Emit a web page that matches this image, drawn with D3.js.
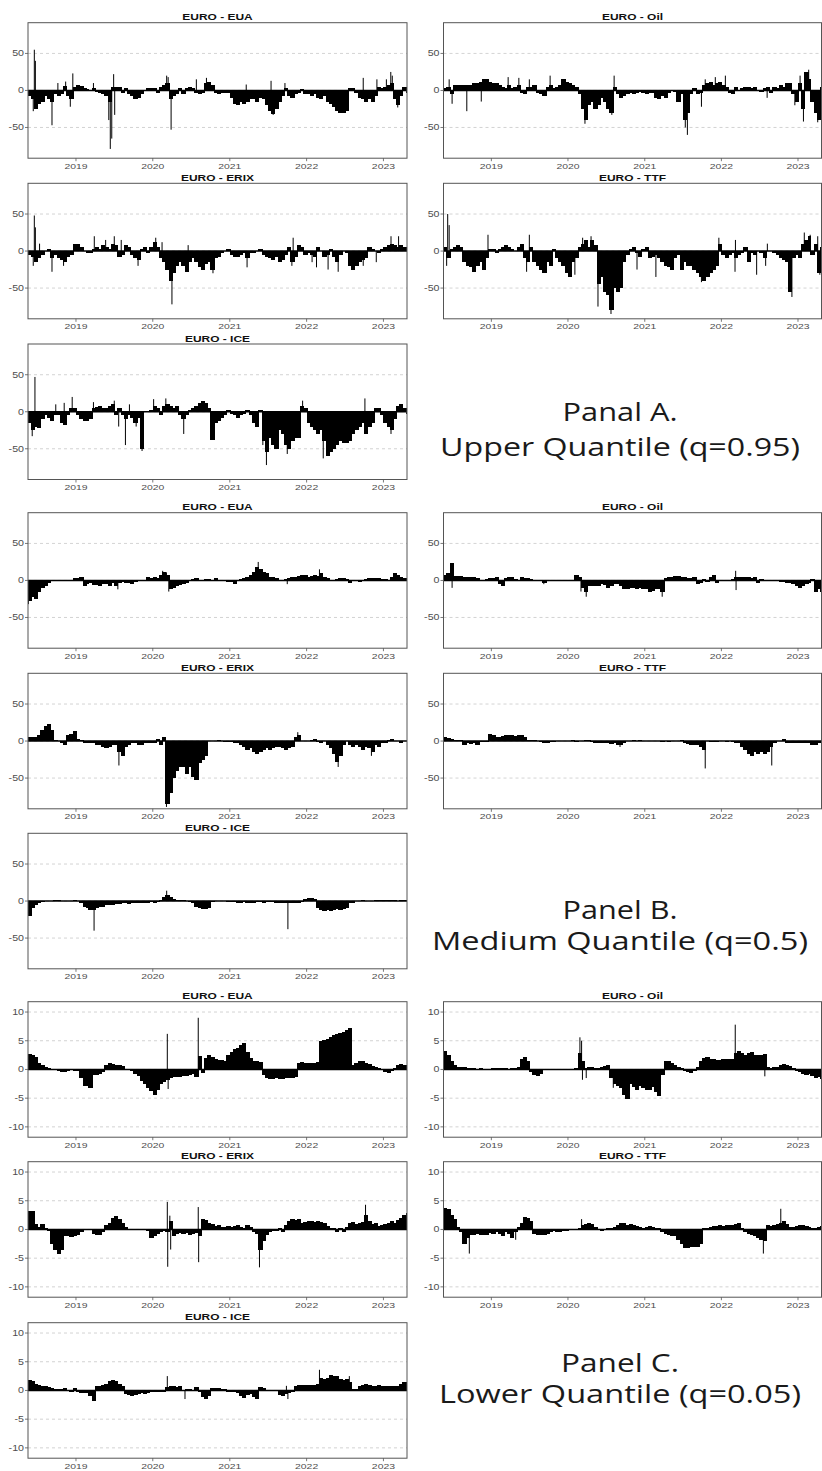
<!DOCTYPE html>
<html>
<head>
<meta charset="utf-8">
<script src="https://cdn.jsdelivr.net/npm/d3@7"></script>
<style>
  body { margin: 0; background: #fff; }
</style>
</head>
<body>
<div id="chart"></div>
<script>
// half-month readings, May-16 2018 .. Apr-16 2023 (119 values per series)
// rows of each array: 2018 (15) | 2019 (24) | 2020 (24) | 2021 (24) | 2022 (24) | 2023 (8)

// Panel A, upper quantile q=0.95
const euaUpper = [
  -8, -12, -25, -18, -15, -8, -12, -15, -5, -8, -5, 6, -8, -12, 5,
  8, 6, 3, 2, 0, 3, -2, -3, -5, -8, -15, 5, 4, 5, -3, 3, -5, -8, -12, -10, -5, 0, 3, 3,
  3, -3, 5, 8, 10, -12, -8, -5, 3, -5, 3, 4, 3, -3, -5, -3, 10, 12, 8, -3, -5, -4, -3, -3,
  -10, -18, -20, -15, -18, -15, -12, -12, -15, -10, -12, -20, -28, -32, -25, -15, -8, 3, -8, -10, -5, -3, 2, -5,
  -5, -8, -5, -10, -12, -8, -15, -18, -22, -28, -30, -30, -28, 3, 3, -3, -10, -12, -15, -12, -15, -8, 5, 3,
  5, 8, 10, -12, -20, -8, 5, -3
]
const oilUpper = [
  3, 5, -5, 8, 8, 8, 7, 8, 8, 10, 10, 12, 15, 15, 12,
  10, 10, 8, 5, 3, 8, 3, 5, 8, -3, -5, 5, 5, 8, -3, -5, -8, 5, 8, 3, 5, 8, 15, 12,
  10, 8, 5, -5, -25, -40, -20, -15, -25, -20, -10, -15, -25, -30, 5, -5, -10, -8, -5, -3, -5, -3, -2, -3,
  -5, -3, -3, -10, -12, -8, -10, -3, 0, -2, -15, -5, -40, -30, -5, 3, -5, -3, 8, 10, 12, 8, 10, 12,
  8, 5, -3, -5, 5, 0, 3, 5, 5, 3, 5, 0, -2, 3, 5, -3, 5, 3, 8, 5, 10, 10, -5, -15,
  10, -25, 25, 15, -15, -30, -40, 5
]
const erixUpper = [
  -5, -8, -15, -10, -5, 0, 3, -10, -5, -10, -12, -15, -8, -5, 10,
  10, 5, 0, -3, -3, 3, 5, 3, 8, 5, 3, 10, 8, -8, -5, 8, 5, -5, -10, -12, 3, 5, -3, 5,
  12, 5, -10, -15, -25, -40, -30, -20, -15, -20, -28, -15, -10, -15, -22, -25, -18, -15, -25, -10, -8, -3, 0, 3,
  -5, -8, -8, -5, -3, -10, -3, -3, 0, 3, -5, -8, -10, -12, -8, -15, -12, -5, 5, -15, -8, 8, 5, -5,
  -3, -5, -8, 5, 0, -8, -5, 3, -8, -15, -5, 0, -3, -20, -25, -20, -15, -12, -10, 5, 3, 0, -3, 3,
  5, 8, 10, 8, 5, 8, 5, 3
]
const ttfUpper = [
  5, -10, 3, 5, 8, 5, -15, -20, -22, -28, -20, -15, -25, -10, 3,
  3, -3, 3, 5, 8, 5, 3, 0, 5, 10, -10, -15, 5, -15, -20, -25, -30, -15, -20, 3, -10, -15, -20, -30,
  -35, -15, -10, 5, 10, 15, 5, 15, 8, -45, -35, -55, -60, -80, -50, -55, -50, -15, -5, 3, 5, -3, -8, 3,
  5, -10, -8, -5, -10, -15, -20, -22, -25, -10, -5, -25, -15, -20, -20, -25, -30, -35, -40, -35, -30, -25, -20, 10,
  -5, -10, -5, -3, -10, -5, -3, 5, -15, -3, -5, 0, -3, -10, 0, 0, -3, -5, -10, -12, -15, -55, -10, -5,
  -10, 10, 15, 20, -5, 10, -30, 5
]
const iceUpper = [
  -15, -25, -20, -22, -10, -5, -8, -12, -5, -5, -15, -18, -5, 5, 5,
  -5, -10, -12, -12, -10, 5, 7, 8, 5, 5, 8, 10, -5, 5, -5, -10, -5, -8, -15, -8, -50, 0, 0, 3,
  8, 5, -5, 8, 10, 8, 5, 8, -5, -10, -5, 3, 5, 8, 12, 15, 12, 5, -38, -15, -12, -8, -5, 3,
  -3, -5, -8, -5, -3, 3, -5, -15, -20, 3, -40, -55, -35, -45, -50, -25, -30, -45, -50, -40, -35, -35, 8, 5,
  -15, -20, -25, -30, -25, -40, -60, -55, -50, -45, -40, -42, -42, -40, -30, -25, -20, -15, -30, -20, -15, 5, 5, -5,
  -15, -20, -25, -10, 8, 10, 5, -3
]

// Panel B, medium quantile q=0.5
const euaMedium = [
  -28, -22, -25, -15, -10, -8, -3, -1, 0, 0, 0, -1, -1, 0, 3,
  3, 5, -8, -5, -3, -6, -6, -7, -5, -5, -7, -3, -8, -3, -2, -3, -4, -5, -2, -1, -1, -1, 5, 3,
  5, 3, 8, 12, 8, -12, -10, -8, -6, -5, -3, 0, 2, 3, 1, 0, 2, 2, 1, 3, 1, -1, -1, -2,
  -2, -5, -1, 2, 3, 5, 8, 12, 18, 15, 12, 10, 5, 5, 3, 0, 0, 2, 3, 4, 5, 6, 8, 8,
  5, 6, 7, 6, 10, 5, 3, 1, 1, 2, 3, 3, 2, -3, -1, 1, -2, 1, 2, 3, 3, 3, 3, 2,
  2, 1, 5, 10, 8, 5, 3, 3
]
const oilMedium = [
  8, 10, 23, 6, 6, 6, 5, 5, 4, 4, 3, 0, 0, 2, 3,
  3, 4, -5, -8, 3, 4, 5, 2, -1, 5, 3, 3, 2, 0, 0, 0, -3, 0, 0, 0, 0, 0, 0, 0,
  0, 0, 8, 5, -10, -15, -8, -8, -8, -7, -5, -6, -10, -8, -5, -5, -8, -12, -12, -10, -10, -12, -10, -12,
  -12, -15, -14, -12, -12, -15, 3, 5, 5, 6, 6, 5, 5, 3, 3, 5, -5, -3, 2, -2, 5, 8, -3, 0,
  0, -1, -1, 2, 5, 4, 4, 4, 5, 3, 5, -3, 2, 0, 0, 0, 0, -1, -2, -2, -3, -3, -5, -8,
  -10, -8, -5, -3, 2, -15, -12, -15
]
const erixMedium = [
  5, 5, 5, 8, 15, 20, 23, 15, 2, 0, -3, -5, 8, 10, 13,
  3, 2, -2, -3, -2, -2, -5, -5, -8, -10, -8, -5, -5, -15, -20, -8, -5, -3, -3, -5, -5, -3, -3, -2,
  -2, 3, -5, 5, -85, -70, -50, -40, -35, -35, -45, -35, -48, -52, -30, -25, -20, 0, 0, 0, 2, 0, -1, -1,
  -1, -2, -3, -5, -8, -12, -10, -15, -18, -15, -12, -10, -12, -10, -8, -8, -10, -12, -10, -8, 5, 8, 0, 0,
  0, 2, 3, -1, -2, 0, -5, -10, -18, -28, -20, -5, 0, -5, -8, -5, -8, -12, -8, -10, -15, -5, -8, -3,
  -3, 2, 3, 0, 0, -3, 0, 0
]
const ttfMedium = [
  5, 4, 3, 2, 1, 1, -5, -3, -4, -3, -5, -1, -1, -1, 10,
  8, 5, 6, 7, 8, 8, 8, 7, 8, 8, 5, 2, 2, 1, 0, -1, -2, -2, -1, -1, 0, 0, 0, 0,
  0, 1, -1, 0, 0, 2, 1, -1, -3, -3, -2, -2, -3, -4, -3, -5, -5, -2, 0, 0, 1, 0, 1, 0,
  0, 0, 0, 0, 0, -1, 0, -1, 0, 0, 0, 1, -3, -4, -5, -5, -6, -8, -12, 0, -1, -1, -1, 0,
  0, -1, 0, -1, -2, -3, -8, -12, -18, -20, -15, -18, -15, -18, -15, -8, -3, 0, 0, 3, -3, -3, -3, -2,
  -2, -2, -2, -3, -5, -5, -2, -2
]
const iceMedium = [
  -20, -10, -5, -3, -1, 0, 0, 0, 1, 1, 0, 0, 0, 0, 1,
  0, -3, -8, -10, -12, -12, -10, -8, -8, -6, -5, -5, -4, -4, -3, -3, -4, -3, -3, -2, -2, -2, -2, -1,
  -3, -1, 2, 5, 8, 6, 3, 2, 1, 1, 0, -1, -3, -8, -10, -11, -11, -10, -1, 0, 0, 0, 0, -1,
  -1, -1, -2, -2, -1, -2, -2, -3, -1, -1, -2, -1, -1, -1, -2, -2, -2, -3, -3, -3, -2, -2, -1, 3,
  4, 4, 3, -10, -12, -13, -12, -13, -12, -11, -12, -11, -10, -3, -2, 0, 0, 1, 0, 0, 0, 1, 1, 1,
  1, 1, 2, 1, 0, 1, 1, 1
]

// Panel C, lower quantile q=0.05
const euaLower = [
  2.7, 2.5, 2.2, 1.2, 0.8, 0.5, 0.2, 0, 0, -0.3, -0.4, -0.4, -0.3, 0, -0.2,
  -0.3, -1.5, -2.8, -2.8, -3.3, -1, -0.9, -0.8, -0.5, 0.8, 1.2, 0.9, 0.8, 0.8, 0.6, 0.1, 0, -0.2, -0.8, -1.2, -2, -2.5, -3.2, -3.8,
  -4.5, -3.5, -2.5, -2.2, -1.8, -1.5, -1.4, -1.3, -1.4, -1.2, -1.1, -1, -0.8, -1.4, 2.3, -0.6, 2, 2.5, 2.2, 1.8, 1.6, 1.6, 1.5, 2.5,
  3, 3.5, 3.8, 4.2, 4.6, 3, 2, 1.5, 1.4, 1.3, -1, -1.5, -1.6, -1.6, -1.5, -1.6, -1.6, -1.5, -1.5, -1.5, -1.4, 1.2, 1.3, 1.2,
  1.2, 1.1, 1.1, 1.3, 5, 5.2, 5.3, 5.6, 6, 6.2, 6.4, 6.5, 6.8, 7.2, 0.8, 1.2, 1.5, 1.5, 1.2, 1, 0.6, 0.5, 0.3, 0.1,
  -0.4, -0.6, -0.3, 0.3, 0.7, 0.9, 0.8, 0.6
]
const oilLower = [
  3.2, 2.5, 1.5, 0.8, 0.5, 0.5, 0.4, 0.3, 0.2, 0.2, 0.1, 0.2, 0.1, 0, 0,
  0.2, 0.2, 0.2, 0.2, 0.2, 0.1, 0.2, 0.3, 0.5, 1.8, 2.2, 1.5, -0.5, -1, -1.2, -0.8, 0, 0, 0, 0.1, 0, 0.1, 0, 0,
  0, 0.1, 0.2, 2.8, 1.5, 0.3, 0.5, 0.4, 0.3, 0.3, 0.4, 0.6, 0.8, -1.5, -2.5, -2.8, -3.2, -4.5, -5.2, -2.5, -3, -3.5, -2.8, -3.2,
  -3.5, -3.5, -3, -4, -4.6, -1, 1.5, 1.4, 1.2, 0.8, 0.4, 0.2, -0.2, -0.4, -0.6, -0.2, 0.5, 1.5, 2, 2.2, 1.8, 1.8, 1.6, 1.7,
  1.8, 1.8, 1.9, 1.9, 2.8, 3.2, 2.8, 2.5, 2.8, 3, 2.6, 2.5, 2.6, 2.7, 0.4, 0.3, 0.5, 0.4, 0.7, 0.9, 0.8, 0.6, 0.3, -0.2,
  -0.5, -0.8, -1, -0.8, -1.2, -1.5, -1.3, -1.6
]
const erixLower = [
  3.3, 3.2, 1, 0.5, 1, 0.3, -0.3, -2.5, -3.5, -4.2, -3.5, -1.2, -1.2, -1.3, -1.1,
  -1, -0.5, 0, 0.1, 0, -0.8, -1, -0.9, -0.5, 0.8, 1.2, 2, 2.4, 1.8, 1.2, 0.5, 0, 0, 0, 0, 0, 0, -0.2, -1.5,
  -1.2, -0.8, -0.5, -0.3, -0.5, 1.5, -1.2, -0.8, -0.6, -0.8, -0.6, -1, -0.8, -0.6, -1.2, 1.8, 1.6, 1.2, 1, 0.6, 0.7, 0.5, 0.5, 0.6,
  0.5, 0.6, 0.8, 0.5, 0.3, 0.8, 0.4, -0.5, -0.8, -3.5, -2, -1, -0.5, -0.2, -0.3, 0.2, -0.5, 0.8, 1.5, 1.8, 1.6, 1.8, 1.2, 1.3,
  1.4, 1.5, 1.3, 1.5, 1.3, 1.2, 0.6, 0.2, 0.3, -0.4, 0.2, -0.4, 0.5, 1.2, 1.3, 1, 1.2, 1.3, 2.5, 1.5, 1, 1.2, 0.6, 0.8,
  1, 1.2, 1.5, 1.2, 1.6, 2, 2.6, 2.8
]
const ttfLower = [
  3.8, 3.5, 2.5, 1.8, 0.5, -0.5, -2.5, -1.5, -1, -1, -0.8, -0.9, -1, -1, -0.7,
  -0.8, -0.5, -0.8, -1.2, -0.5, -0.8, -1.5, -0.4, 0.5, 1.2, 2.1, 2, 1.5, -0.8, -1, -0.9, -1, -0.8, -0.5, -0.3, -0.4, -0.4, -0.3, -0.2,
  -0.1, 0, 0.1, 0.2, 0.8, 1, 1.1, 0.9, 0.5, 0, -0.2, 0, 0.2, 0.3, 0.4, 0.8, 1.2, 1.1, 0.8, 1, 0.8, 0.6, 0.4, 0.3,
  0.4, 0.6, 0.5, 0.3, 0.2, -0.5, -0.8, -1, -1.2, -1.2, -1.8, -2.5, -3.2, -3.2, -3, -3.1, -3, -2.5, 0.2, 0.3, 0.5, 0.6, 0.6, 0.7,
  0.6, 0.7, 0.8, 0.7, 1, 1.1, 0.2, -0.5, -0.8, -1, -1.2, -1.5, -1.8, -2, 0.8, 0.6, 0.8, 1, 1.2, 1.5, 1, 0.4, 0.5, 0.6,
  0.7, 0.7, 0.6, 0.5, 0.3, 0.2, 0.4, 0.6
]
const iceLower = [
  1.8, 1.7, 1.2, 1, 0.8, 0.7, 0.6, 0.4, 0.3, 0.2, 0.3, 0.5, -0.1, -0.2, 0.4,
  -0.3, -0.4, -0.5, -0.5, -1, -1.8, 0.7, 0.8, 1, 1.2, 1.6, 1.8, 1.6, 1.2, 0.8, -0.6, -0.8, -1, -0.8, -0.6, -0.5, -0.6, -0.4, -0.3,
  -0.3, -0.3, -0.3, -0.3, 0.6, 0.8, 0.7, 0.6, 0.8, 0, 0.2, 0.3, 0.1, 0.6, -0.3, -1.2, -1.5, -1, 0.4, 0.5, 0.4, 0.3, 0.2, -0.2,
  -0.3, -0.2, -0.5, -1, -1.4, -0.8, -0.6, -1.2, -1.5, 0.6, 0.5, 0.1, 0, 0.1, 0, -0.8, -1, -0.7, -0.5, -0.3, 0.8, 0.9, 0.9, 1,
  1, 0.9, 1, 1.2, 2.2, 2, 2.2, 2.7, 2.6, 2.5, 2, 1.8, 2, 1.5, 0.3, 0.3, 0.8, 1, 1.2, 1, 0.8, 0.8, 0.9, 0.7,
  0.7, 0.8, 0.7, 0.8, 0.8, 1.2, 1.5, 0.5
]

// single-day spikes: [date, value]
const euaUpperSpikes = [["2018-06-12", -28], ["2018-06-17", 55], ["2018-06-22", 40], ["2018-09-09", -47], ["2018-10-07", 10], ["2018-11-13", 12], ["2018-12-05", -22], ["2018-12-17", 23], ["2019-03-25", 10], ["2019-06-06", -40], ["2019-06-13", -79], ["2019-06-20", -65], ["2019-06-29", 22], ["2019-07-04", -33], ["2020-03-07", 20], ["2020-03-14", 18], ["2020-03-28", -53], ["2020-07-26", 15], ["2020-09-12", 17], ["2021-03-20", 8], ["2021-07-16", 13], ["2021-07-26", -33], ["2021-09-20", 10], ["2022-09-27", 17], ["2022-12-01", 15], ["2023-01-15", 15], ["2023-02-05", 25], ["2023-02-12", 20], ["2023-03-10", -23]]
const oilUpperSpikes = [["2018-06-14", 15], ["2018-06-28", -18], ["2018-09-06", -28], ["2018-11-14", -15], ["2019-03-22", 18], ["2019-05-12", 17], ["2019-07-01", 15], ["2019-10-08", 20], ["2020-03-22", -45], ["2020-07-28", -33], ["2020-08-08", 20], ["2021-07-13", -50], ["2021-07-23", -60], ["2021-09-28", -22], ["2021-10-16", 15], ["2021-12-03", 18], ["2022-01-20", 20], ["2022-08-07", -10], ["2022-12-17", -20], ["2023-01-11", 20], ["2023-01-27", -42], ["2023-02-21", 28], ["2023-04-05", -43]]
const erixUpperSpikes = [["2018-06-12", -20], ["2018-06-17", 48], ["2018-06-22", 32], ["2018-07-12", 10], ["2018-09-09", -28], ["2018-11-03", -20], ["2019-03-29", 20], ["2019-05-22", 15], ["2019-07-02", 20], ["2019-08-04", 15], ["2019-10-23", -20], ["2020-01-15", 18], ["2020-02-14", 12], ["2020-04-01", -72], ["2020-06-17", 8], ["2020-10-13", -30], ["2021-03-24", -22], ["2021-10-23", -20], ["2021-10-29", 18], ["2022-01-27", -15], ["2022-02-17", -22], ["2022-04-13", -25], ["2022-05-31", -28], ["2022-09-27", -20], ["2022-11-28", -15], ["2023-02-06", 20], ["2023-03-14", 20]]
const ttfUpperSpikes = [["2018-06-02", -20], ["2018-06-07", 50], ["2018-06-14", 35], ["2018-12-16", 22], ["2019-06-18", -28], ["2019-07-01", 22], ["2020-02-03", -32], ["2020-03-11", 18], ["2020-04-20", 20], ["2020-05-23", -75], ["2020-07-24", -85], ["2020-11-25", -25], ["2021-02-23", -35], ["2021-09-28", -42], ["2021-12-20", 18], ["2022-03-07", -28], ["2022-03-09", 15], ["2022-06-18", -32], ["2022-07-31", -20], ["2022-08-08", 10], ["2022-12-03", -62], ["2023-01-31", 25], ["2023-02-28", 22], ["2023-04-05", 20], ["2023-04-15", -32]]
const iceUpperSpikes = [["2018-06-07", -33], ["2018-06-20", 47], ["2018-09-27", 10], ["2018-11-06", 12], ["2018-12-14", 20], ["2019-03-25", 13], ["2019-07-02", 15], ["2019-07-23", -20], ["2019-08-24", -45], ["2019-09-12", 10], ["2019-10-14", -20], ["2019-11-11", -53], ["2020-01-05", 17], ["2020-03-03", 18], ["2020-05-27", -30], ["2021-06-07", -45], ["2021-06-24", -72], ["2021-10-01", -57], ["2021-12-13", 15], ["2022-03-21", -63], ["2022-10-05", 18], ["2023-02-06", -30]]

const euaMediumSpikes = [["2018-05-20", -32], ["2019-07-19", -12], ["2020-02-17", 13], ["2020-03-06", 11], ["2020-03-17", -15], ["2021-05-16", 25], ["2021-10-01", -5], ["2022-03-03", 15]]
const oilMediumSpikes = [["2018-06-28", -10], ["2019-09-08", -5], ["2020-03-03", -15], ["2020-03-28", -22], ["2021-03-25", -22], ["2022-03-10", 13], ["2022-03-12", -13]]
const erixMediumSpikes = [["2019-07-24", -33], ["2020-03-06", -89], ["2021-11-20", 12], ["2022-05-31", -35], ["2022-11-05", -20]]
const ttfMediumSpikes = [["2020-09-05", -8], ["2021-10-16", -37], ["2022-08-29", -33]]
const iceMediumSpikes = [["2019-03-28", -40], ["2020-03-07", 14], ["2021-10-04", -38]]

const euaLowerSpikes = [["2020-03-10", 6.2], ["2020-03-14", -3.4], ["2020-08-04", 9]]
const oilLowerSpikes = [["2020-02-27", 5.6], ["2020-03-06", 5], ["2020-03-10", -1.8], ["2020-03-28", -1.5], ["2020-08-04", -3.2], ["2022-03-08", 7.8], ["2022-07-27", -1.2]]
const erixLowerSpikes = [["2020-03-10", 4.8], ["2020-03-12", -6.5], ["2020-03-22", 2.4], ["2020-03-26", -3.5], ["2020-08-04", 3.9], ["2020-08-06", -5.7], ["2021-05-22", -6.6], ["2022-10-08", 4.3]]
const ttfLowerSpikes = [["2018-09-18", -4.2], ["2019-04-27", -1.8], ["2020-03-06", 1.8], ["2022-07-20", -4.2], ["2022-10-11", 3.6]]
const iceLowerSpikes = [["2020-03-10", 2.5], ["2020-06-02", -1.5], ["2021-09-27", 0.8], ["2021-10-04", -1.5], ["2022-03-03", 3.6], ["2022-07-23", 2.5]]

const yearTicks = [2019, 2020, 2021, 2022, 2023]
const wideTicks = [-50, 0, 50]
const narrowTicks = [-10, -5, 0, 5, 10]
const panelNotes = [
  ["Panal A.", "Upper Quantile (q=0.95)"],
  ["Panel B.", "Medium Quantile (q=0.5)"],
  ["Panel C.", "Lower Quantile (q=0.05)"]
]

// [title, values, spikes, block, row, col]
const panels = [
  ["EURO - EUA", euaUpper, euaUpperSpikes, 0, 0, 0],
  ["EURO - Oil", oilUpper, oilUpperSpikes, 0, 0, 1],
  ["EURO - ERIX", erixUpper, erixUpperSpikes, 0, 1, 0],
  ["EURO - TTF", ttfUpper, ttfUpperSpikes, 0, 1, 1],
  ["EURO - ICE", iceUpper, iceUpperSpikes, 0, 2, 0],
  ["EURO - EUA", euaMedium, euaMediumSpikes, 1, 0, 0],
  ["EURO - Oil", oilMedium, oilMediumSpikes, 1, 0, 1],
  ["EURO - ERIX", erixMedium, erixMediumSpikes, 1, 1, 0],
  ["EURO - TTF", ttfMedium, ttfMediumSpikes, 1, 1, 1],
  ["EURO - ICE", iceMedium, iceMediumSpikes, 1, 2, 0],
  ["EURO - EUA", euaLower, euaLowerSpikes, 2, 0, 0],
  ["EURO - Oil", oilLower, oilLowerSpikes, 2, 0, 1],
  ["EURO - ERIX", erixLower, erixLowerSpikes, 2, 1, 0],
  ["EURO - TTF", ttfLower, ttfLowerSpikes, 2, 1, 1],
  ["EURO - ICE", iceLower, iceLowerSpikes, 2, 2, 0]
]

const width = 822
const height = 1471
const rowTops = [[22.7, 183.3, 344], [512.7, 673.3, 833.3], [1001.7, 1161.7, 1322.7]]
const plotH = 135.5
const colX = [[28, 407], [443.5, 821.5]]
const sx = 1.3 // the picture is stretched sideways

const parseDate = d3.timeParse("%Y-%m-%d")
const startDate = new Date(2018, 4, 18)
const endDate = new Date(2023, 3, 23)
const binDates = d3.timeMonth.range(new Date(2018, 4, 1), new Date(2023, 4, 1))
  .flatMap(m => [m, d3.timeDay.offset(m, 15)]).slice(1)

const svg = d3.select("#chart").append("svg")
  .attr("width", width)
  .attr("height", height)
  .style("font-family", "'Liberation Sans', Arial, sans-serif")

svg.append("rect").attr("width", width).attr("height", height).attr("fill", "#fff")

function stretched(g, x, y, str) {
  return g.append("text")
    .attr("transform", `translate(${x},${y}) scale(${sx},1)`)
    .text(str)
}

panels.forEach(([title, values, spikes, band, row, col], k) => {
  const top = rowTops[band][row]
  const [left, right] = colX[col]
  const bottom = top + plotH
  const lim = band === 2 ? 11.8 : 91.5
  const ticks = band === 2 ? narrowTicks : wideTicks

  const x = d3.scaleTime().domain([startDate, endDate]).range([left, right])
  const y = d3.scaleLinear().domain([-lim, lim]).range([bottom, top])

  const g = svg.append("g")

  g.append("clipPath").attr("id", "clip" + k)
    .append("rect").attr("x", left).attr("y", top)
    .attr("width", right - left).attr("height", plotH)

  // dashed grid
  g.selectAll(".grid").data(ticks).enter().append("line")
    .attr("x1", left).attr("x2", right)
    .attr("y1", d => y(d)).attr("y2", d => y(d))
    .attr("stroke", "#c8c8c8").attr("stroke-width", 0.8)
    .attr("stroke-dasharray", "3,3")

  const marks = g.append("g").attr("clip-path", `url(#clip${k})`)

  marks.selectAll(".bar").data(values).enter().append("rect")
    .attr("x", (d, i) => x(binDates[i]))
    .attr("width", (d, i) => (i + 1 < binDates.length ? x(binDates[i + 1]) : right) - x(binDates[i]) + 1)
    .attr("y", d => Math.min(y(d), y(0)))
    .attr("height", d => Math.abs(y(d) - y(0)))
    .attr("fill", "#000")
    .attr("shape-rendering", "crispEdges")

  marks.selectAll(".spike").data(spikes).enter().append("line")
    .attr("x1", d => x(parseDate(d[0]))).attr("x2", d => x(parseDate(d[0])))
    .attr("y1", y(0)).attr("y2", d => y(d[1]))
    .attr("stroke", "#000").attr("stroke-width", 1)

  marks.append("line")
    .attr("x1", left).attr("x2", right)
    .attr("y1", y(0)).attr("y2", y(0))
    .attr("stroke", "#000").attr("stroke-width", 1.5)

  // frame
  g.append("rect")
    .attr("x", left).attr("y", top)
    .attr("width", right - left).attr("height", plotH)
    .attr("fill", "none").attr("stroke", "#555").attr("stroke-width", 1)

  // y ticks
  ticks.forEach(t => {
    g.append("line").attr("x1", left - 3).attr("x2", left)
      .attr("y1", y(t)).attr("y2", y(t))
      .attr("stroke", "#555").attr("stroke-width", 0.8)
    stretched(g, left - 4, y(t) + 3, t)
      .attr("text-anchor", "end")
      .attr("font-size", "8.2px")
      .attr("fill", "#4d4d4d")
  })

  // x ticks
  yearTicks.forEach(yr => {
    const px = x(new Date(yr, 0, 1))
    g.append("line").attr("x1", px).attr("x2", px)
      .attr("y1", bottom).attr("y2", bottom + 3)
      .attr("stroke", "#555").attr("stroke-width", 0.8)
    stretched(g, px, bottom + 10.5, yr)
      .attr("text-anchor", "middle")
      .attr("font-size", "8px")
      .attr("fill", "#4d4d4d")
  })

  stretched(g, (left + right) / 2, top - 2.5, title)
    .attr("text-anchor", "middle")
    .attr("font-size", "9.2px")
    .attr("font-weight", "bold")
    .attr("fill", "#111")
})

// quantile captions in the empty slot of each block
const noteBase = [[421, 456], [919, 950], [1372, 1403]]
const noteWidths = [[115, 360], [115, 376], [118, 362]]
panelNotes.forEach((lines, b) => {
  lines.forEach((str, j) => {
    svg.append("text")
      .attr("x", 620 - noteWidths[b][j] / 2)
      .attr("y", noteBase[b][j])
      .attr("textLength", noteWidths[b][j])
      .attr("lengthAdjust", "spacingAndGlyphs")
      .attr("font-family", "'Open Sans', sans-serif")
      .attr("font-size", "25px")
      .attr("fill", "#1a1a1a")
      .text(str)
  })
})
</script>
</body>
</html>
